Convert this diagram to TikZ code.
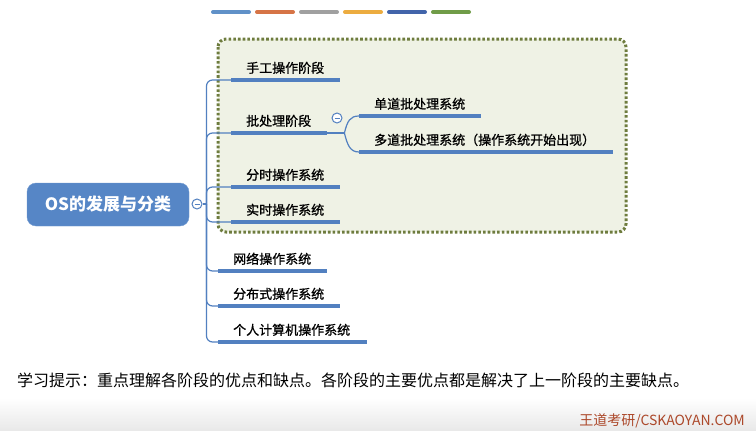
\documentclass[tikz,border=0pt]{standalone}
\usepackage{fontspec}
\newfontfamily\cjk{Noto Sans CJK SC}
\newfontfamily\cjkt[FakeBold=1]{Noto Sans CJK SC}
\usetikzlibrary{positioning, calc}
\definecolor{topicblue}{RGB}{86,134,198}
\definecolor{linkblue}{RGB}{82,128,192}
\definecolor{boxfill}{RGB}{239,242,229}
\definecolor{boxdots}{RGB}{110,124,62}
\definecolor{barblue}{RGB}{96,145,200}
\definecolor{barorange}{RGB}{214,116,70}
\definecolor{bargray}{RGB}{160,160,160}
\definecolor{baryellow}{RGB}{236,172,64}
\definecolor{bardark}{RGB}{66,100,170}
\definecolor{bargreen}{RGB}{112,156,72}
\definecolor{wmarkred}{RGB}{172,72,42}
\tikzset{
    root/.style={rounded corners=9pt, fill=topicblue, draw=topicblue!85!white, text=white, minimum width=162pt, minimum height=43pt, font=\cjk\bfseries\fontsize{17}{20}\selectfont}, % the central topic
    topic/.style={anchor=south west, inner xsep=0pt, inner ysep=7pt, text depth=0pt, text width=#1, align=left, font=\cjkt\fontsize{13}{15}\selectfont, execute at begin node=\hspace*{15pt}}, % a branch, #1 is the underline length
    uline/.style={draw=linkblue, line width=3.5pt},
    link/.style={draw=linkblue, line width=1.2pt, rounded corners=6pt},
    fold/.style={circle, draw=linkblue, fill=white, line width=1pt, minimum size=10pt, inner sep=0pt,
        path picture={\draw[linkblue, line width=1pt] ($(path picture bounding box.center)+(-2.5pt,0)$) -- ++(5pt,0);}},
    dotbox/.style={draw=boxdots, fill=boxfill, line width=3pt, dash pattern=on 2.6pt off 2.1pt, rounded corners=8pt},
    bar/.style={line width=4pt, line cap=round},
    tip/.style={font=\cjk\fontsize{16}{19}\selectfont, inner sep=0pt},
    wmark/.style={font=\cjk\fontsize{14}{16}\selectfont, text=wmarkred, inner sep=0pt}
}

\begin{document}
\begin{tikzpicture}[x=1pt, y=-1pt]
    \useasboundingbox (0,0) rectangle (756,431);
    \shade[top color=white, bottom color=black!9] (0,398) rectangle (756,431);

    % colour bars on top
    \foreach \c [count=\i] in {barblue, barorange, bargray, baryellow, bardark, bargreen}
        \draw[bar, \c] ({213+(\i-1)*44}, 12) -- ++(36,0);

    % the dotted group
    \draw[dotbox] (218,39) rectangle (626,232);

    \node[root] (os) at (108,204.5) {OS的发展与分类};
    \node[fold] (f0) at (197,204) {};
    \coordinate (hub) at ($(f0.east)+(4,0)$);

    \node[topic=109pt] (t1) at (231,80) {手工操作阶段};
    \node[topic=96pt] (t2) at (231,133) {批处理阶段};
    \node[topic=109pt] (t3) at (231,187) {分时操作系统};
    \node[topic=109pt] (t4) at (231,222) {实时操作系统};
    \node[topic=109pt] (t5) at (218,271) {网络操作系统};
    \node[topic=122pt] (t6) at (218,306) {分布式操作系统};
    \node[topic=149pt] (t7) at (218,342) {个人计算机操作系统};
    \node[topic=122pt] (s1) at (359,116) {单道批处理系统};
    \node[topic=254pt] (s2) at (359,152) {多道批处理系统（操作系统开始出现）};
    \node[fold] (f2) at (337,118) {};
    \coordinate (split) at ($(t2.south east)+(17,0)$);

    \draw[link] (f0.east) -- (hub);
    \foreach \t in {t1,t2,t3,t4,t5,t6,t7}
        \draw[link] (hub) |- (\t.south west);
    \draw[link] (t2.south east) -- (split);
    \draw[link] (split) .. controls +(3,-12) and +(-9,0) .. (s1.south west);
    \draw[link] (split) .. controls +(3,12) and +(-9,0) .. (s2.south west);
    \foreach \t in {t1,t2,t3,t4,t5,t6,t7,s1,s2}
        \draw[uline] (\t.south west) -- (\t.south east);

    \node[tip, anchor=base west] (tip) at (17,386) {学习提示：重点理解各阶段的优点和缺点。各阶段的主要优点都是解决了上一阶段的主要缺点。};
    \node[wmark, anchor=base east] (wm) at (745,425) {王道考研/CSKAOYAN.COM};
\end{tikzpicture}
\end{document}
